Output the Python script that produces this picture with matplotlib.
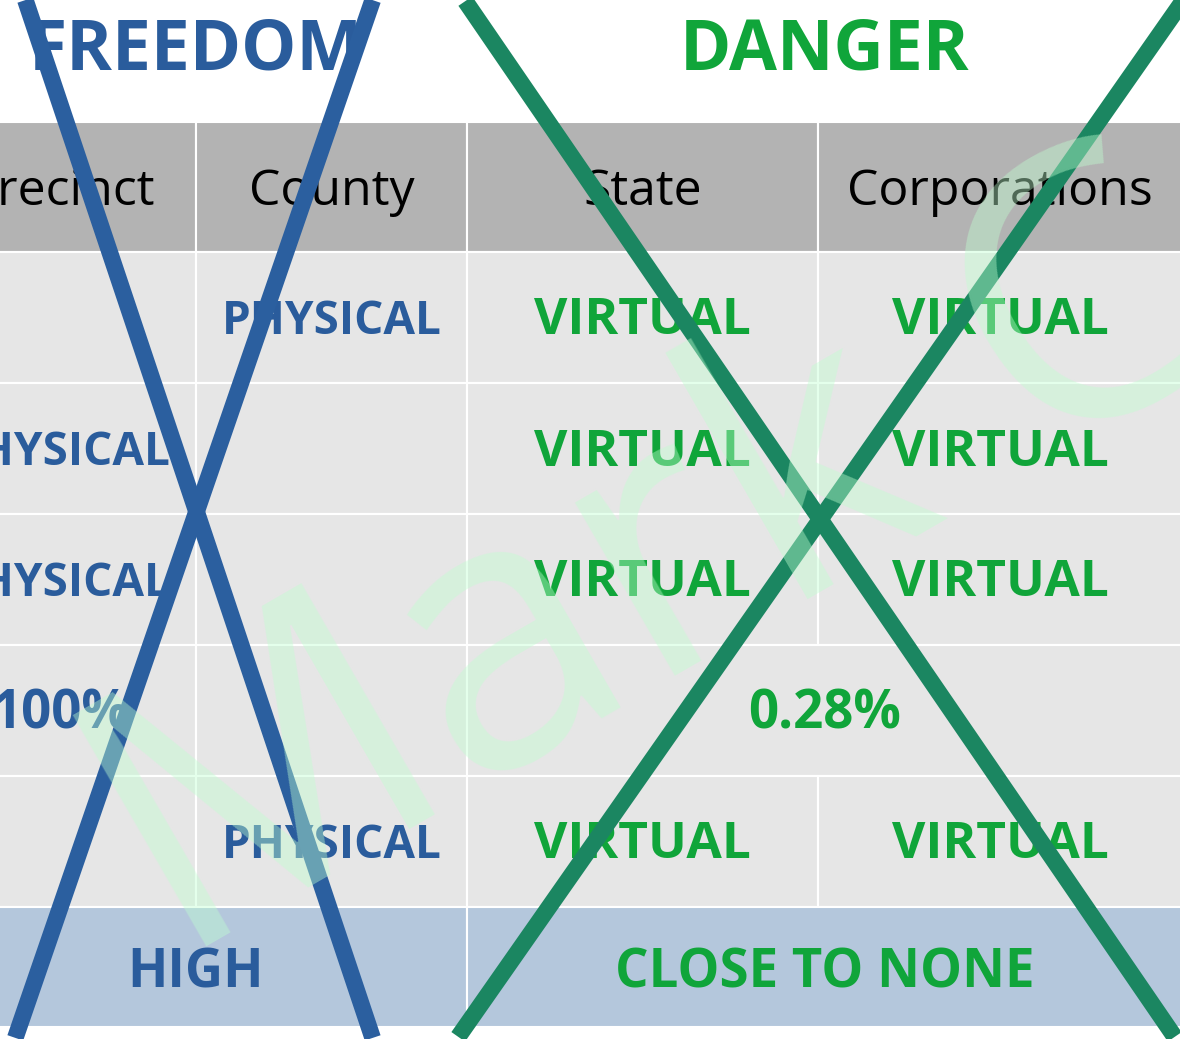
import matplotlib.pyplot as plt
from matplotlib.patches import Rectangle

# table content
groups = ["FREEDOM", "DANGER"]
columns = ["Precinct", "County", "State", "Corporations"]
# each row: list of (text, first column, span)
body_rows = [
    [("", 0, 1), ("PHYSICAL", 1, 1), ("VIRTUAL", 2, 1), ("VIRTUAL", 3, 1)],
    [("PHYSICAL", 0, 1), ("", 1, 1), ("VIRTUAL", 2, 1), ("VIRTUAL", 3, 1)],
    [("PHYSICAL", 0, 1), ("", 1, 1), ("VIRTUAL", 2, 1), ("VIRTUAL", 3, 1)],
    [("100%", 0, 1), ("", 1, 1), ("0.28%", 2, 2)],
    [("", 0, 1), ("PHYSICAL", 1, 1), ("VIRTUAL", 2, 1), ("VIRTUAL", 3, 1)],
]
summary_row = [("HIGH", 0, 2), ("CLOSE TO NONE", 2, 2)]
watermark = "Mark C"

BLUE = "#2a5c9c"
GREEN = "#10a53a"
CROSS_BLUE = "#2b5f9f"
CROSS_GREEN = "#1b8661"

col_edges = [-75, 196, 467, 818, 1182]
header_top, header_h, row_h, summary_h = 122, 130, 131, 120
W, H = 1180, 1039

plt.rcParams["font.family"] = ["Open Sans", "DejaVu Sans"]

fig = plt.figure(figsize=(W / 100, H / 100), dpi=100)
ax = fig.add_axes([0, 0, 1, 1])
ax.set_xlim(0, W)
ax.set_ylim(H, 0)
ax.axis("off")


def cell(x0, x1, y0, h, face, text="", color="black", size=30,
         weight="bold", dy=4):
    ax.add_patch(Rectangle((x0, y0), x1 - x0, h, facecolor=face,
                           edgecolor="white", linewidth=1.5, zorder=1))
    if text:
        ax.text((x0 + x1) / 2, y0 + h / 2 + dy, text, ha="center",
                va="center", color=color, fontsize=size, fontweight=weight,
                zorder=2)


# group titles
for i, g in enumerate(groups):
    x0, x1 = col_edges[2 * i], col_edges[2 * i + 2]
    ax.text((x0 + x1) / 2, 52, g, ha="center", va="center",
            color=BLUE if i == 0 else GREEN, fontsize=50, fontweight="bold")

# header
for j, c in enumerate(columns):
    cell(col_edges[j], col_edges[j + 1], header_top, header_h, "#b3b3b3",
         c, "black", 36, "normal", 5)

# body
y = header_top + header_h
for row in body_rows:
    for text, c0, span in row:
        if c0 < 2:
            col, size = BLUE, 33
        else:
            col, size = GREEN, 37
        if text.endswith("%"):
            size = 38
        cell(col_edges[c0], col_edges[c0 + span], y, row_h, "#e6e6e6",
             text, col, size)
    y += row_h

for text, c0, span in summary_row:
    col = BLUE if c0 < 2 else GREEN
    cell(col_edges[c0], col_edges[c0 + span], y, summary_h, "#b4c7dc",
         text, col, 38, dy=6)

# crosses over each half
lw = 12
ax.plot([28, 370], [8, 1030], color=CROSS_BLUE, lw=lw, zorder=3)
ax.plot([370, 18], [8, 1030], color=CROSS_BLUE, lw=lw, zorder=3)
ax.plot([470, 1170], [8, 1030], color=CROSS_GREEN, lw=lw, zorder=3)
ax.plot([1178, 463], [8, 1030], color=CROSS_GREEN, lw=lw, zorder=3)

# watermark
ax.text(175, 965, watermark, ha="left", va="baseline", rotation=30,
        rotation_mode="anchor", color="#c0ffd0", alpha=0.42,
        fontsize=270, zorder=4)

fig.savefig("out.png", dpi=100)
